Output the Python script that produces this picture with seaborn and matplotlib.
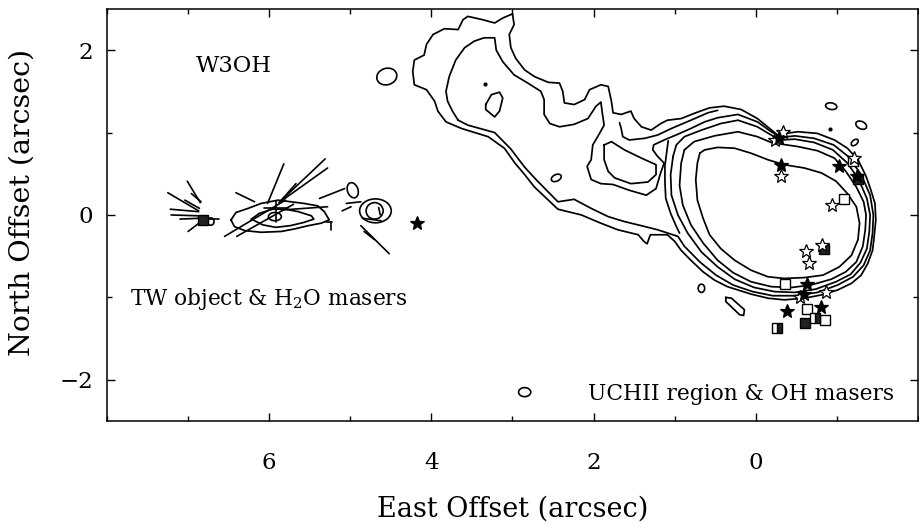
import matplotlib
matplotlib.use("Agg")
import matplotlib.pyplot as plt
import numpy as np
import pandas as pd
import seaborn as sns
from matplotlib.patches import Ellipse
from matplotlib.ticker import MultipleLocator

# ---------------- data (arcsec offsets) ----------------
# UCHII region / tail contours (polylines, East offset, North offset)
lev1_outer = [(3.00,2.44),(3.12,2.39),(3.22,2.33),(3.37,2.37),(3.55,2.41),(3.61,2.37),(3.67,2.25),
    (3.84,2.26),(3.98,2.19),(4.06,2.07),(4.09,1.94),(4.21,1.88),(4.23,1.74),(4.21,1.58),(4.06,1.52),
    (3.96,1.38),(3.92,1.26),(3.82,1.13),(3.63,1.05),(3.30,0.95),(3.10,0.81),(2.97,0.63),(2.85,0.49),
    (2.73,0.34),(2.59,0.21),(2.44,0.07),(2.15,0.00),(1.91,-0.10),(1.70,-0.18),(1.45,-0.24),(1.38,-0.32),
    (1.34,-0.35),(1.30,-0.24),(1.09,-0.24),(1.00,-0.32),(0.92,-0.43),(0.80,-0.55),(0.65,-0.69),
    (0.51,-0.79),(0.35,-0.87),(0.22,-0.91),(0.06,-0.96),(-0.15,-1.01),(-0.35,-1.03),(-0.60,-1.01),
    (-0.81,-0.97),(-1.01,-0.91),(-1.18,-0.83),(-1.30,-0.73),(-1.38,-0.59),(-1.44,-0.43),(-1.46,-0.26),
    (-1.48,-0.06),(-1.47,0.14),(-1.42,0.30),(-1.36,0.47),(-1.26,0.67),(-1.13,0.81),(-0.97,0.91),
    (-0.76,0.99),(-0.52,1.01),(-0.37,0.99),(-0.27,0.97),(-0.17,1.05),(-0.02,1.17),(0.18,1.28),
    (0.39,1.32),(0.57,1.30),(0.74,1.24),(0.92,1.17),(1.09,1.15),(1.17,1.11),(1.29,1.03),(1.41,1.07),
    (1.50,1.17),(1.54,1.26),(1.66,1.22),(1.76,1.24),(1.78,1.38),(1.82,1.56),(1.91,1.58),(2.05,1.52),
    (2.11,1.40),(2.24,1.34),(2.36,1.36),(2.38,1.50),(2.42,1.60),(2.56,1.61),(2.73,1.68),(2.85,1.76),
    (2.96,1.90),(3.02,2.03),(3.04,2.19),(2.98,2.31)]

lev2_tail = [(3.67,1.15),(3.74,1.26),(3.80,1.38),(3.82,1.50),(3.78,1.68),(3.70,1.88),(3.59,2.03),
    (3.47,2.11),(3.35,2.15),(3.22,2.15),(3.20,2.00),(3.12,1.86),(2.98,1.70),(2.81,1.60),(2.65,1.50),
    (2.61,1.40),(2.61,1.22),(2.54,1.11),(2.42,1.07),(2.24,1.10),(2.07,1.17),(1.97,1.32),(1.91,1.37),
    (1.89,1.22),(1.87,1.09),(1.95,0.95),(2.01,0.85),(2.03,0.67),(2.08,0.59),(2.03,0.43),(1.91,0.38),
    (1.76,0.37),(1.56,0.30),(1.35,0.24),(1.23,0.32),(1.18,0.49),(1.13,0.63),(1.21,0.71),(1.27,0.79),
    (1.26,0.85),(1.13,0.91),(0.96,0.98),(0.80,1.05),(0.63,1.13),(0.47,1.18),(0.22,1.22),(-0.02,1.13),
    (-0.19,1.01),(-0.31,0.94),(-0.48,0.96),(-0.72,0.93),(-0.96,0.85),(-1.14,0.71),(-1.30,0.49),
    (-1.41,0.24),(-1.45,0.00),(-1.44,-0.22),(-1.41,-0.43),(-1.33,-0.61),(-1.20,-0.75),(-1.01,-0.85),
    (-0.76,-0.94),(-0.48,-0.98),(-0.21,-0.98),(0.04,-0.93),(0.28,-0.85),(0.49,-0.73),(0.69,-0.57),
    (0.88,-0.38),(0.96,-0.26),(1.21,-0.18),(1.37,-0.14),(1.62,-0.08),(1.82,-0.02),(2.03,0.08),
    (2.24,0.19),(2.44,0.16),(2.56,0.28),(2.71,0.43),(2.85,0.58),(3.02,0.80),(3.22,1.00),(3.55,1.09)]

shell_c = [(1.02,0.71),(0.98,0.85),(0.88,0.95),(0.67,1.03),(0.43,1.11),(0.22,1.15),(-0.02,1.07),
    (-0.19,0.97),(-0.31,0.91),(-0.48,0.92),(-0.72,0.88),(-0.95,0.79),(-1.13,0.63),(-1.27,0.43),
    (-1.37,0.20),(-1.41,0.00),(-1.40,-0.20),(-1.37,-0.41),(-1.29,-0.58),(-1.17,-0.72),(-0.99,-0.81),
    (-0.74,-0.90),(-0.48,-0.94),(-0.23,-0.93),(0.02,-0.88),(0.26,-0.78),(0.47,-0.63),(0.67,-0.45),
    (0.84,-0.22),(0.96,0.00),(1.04,0.24),(1.05,0.49)]

shell_b = [(0.88,0.79),(0.76,0.89),(0.51,0.96),(0.22,1.01),(-0.02,0.95),(-0.19,0.88),(-0.31,0.86),
    (-0.52,0.83),(-0.76,0.78),(-0.97,0.69),(-1.11,0.53),(-1.24,0.34),(-1.33,0.16),(-1.36,0.00),
    (-1.35,-0.18),(-1.32,-0.38),(-1.24,-0.57),(-1.11,-0.69),(-0.93,-0.78),(-0.68,-0.85),(-0.44,-0.88),
    (-0.19,-0.87),(0.06,-0.81),(0.28,-0.70),(0.47,-0.55),(0.65,-0.34),(0.80,-0.12),(0.90,0.12),
    (0.94,0.36),(0.92,0.63)]

shell_a = [(0.69,0.75),(0.63,0.79),(0.47,0.82),(0.26,0.81),(0.06,0.75),(-0.15,0.67),(-0.35,0.61),
    (-0.60,0.57),(-0.81,0.51),(-0.99,0.41),(-1.13,0.26),(-1.24,0.10),(-1.28,-0.10),(-1.26,-0.30),
    (-1.18,-0.49),(-1.03,-0.63),(-0.83,-0.73),(-0.60,-0.76),(-0.35,-0.77),(-0.15,-0.75),(0.06,-0.67),
    (0.26,-0.55),(0.43,-0.41),(0.57,-0.24),(0.65,-0.04),(0.72,0.18),(0.74,0.43),(0.72,0.63)]

pocket_loop = [(1.87,0.85),(1.78,0.89),(1.62,0.79),(1.41,0.69),(1.23,0.61),(1.23,0.49),(1.33,0.40),
    (1.54,0.38),(1.74,0.45),(1.82,0.53),(1.87,0.67)]
tail_drop = [(3.33,1.34),(3.26,1.46),(3.16,1.49),(3.12,1.42),(3.16,1.26),(3.22,1.19),(3.33,1.28)]
thin_loop = [(0.37,-1.00),(0.30,-1.01),(0.14,-1.15),(0.15,-1.22),(0.20,-1.21),(0.37,-1.05)]

# open contour pieces
left_edge_d = [(1.08,0.90),(1.10,0.75),(1.12,0.60),(1.12,0.40),(1.11,0.20),(1.05,0.02),(0.98,-0.14),(0.94,-0.22)]
hook_line = [(1.68,1.12),(1.66,1.05),(1.64,0.95),(1.56,0.91),(1.37,0.93),(1.21,0.97),(1.04,1.05),
    (0.80,1.15),(0.59,1.24),(0.47,1.27)]

# TW object contours
tw_outer = [(6.47,-0.06),(6.41,0.03),(6.26,0.08),(6.10,0.14),(5.89,0.18),(5.73,0.16),(5.57,0.14),
    (5.40,0.11),(5.32,0.04),(5.26,-0.06),(5.36,-0.10),(5.52,-0.13),(5.69,-0.17),(5.85,-0.20),
    (6.10,-0.21),(6.30,-0.19),(6.43,-0.14)]
tw_inner = [(6.22,-0.05),(6.12,0.02),(5.96,0.07),(5.80,0.07),(5.64,0.04),(5.48,-0.01),(5.45,-0.05),
    (5.57,-0.09),(5.74,-0.13),(5.92,-0.15),(6.08,-0.12)]

# small closed contours: centre x, centre y, width, height, angle
blob_x = [5.93, 4.69, 4.70, 4.97, 4.55, 2.46, 2.85, 0.67, -0.93, -1.30, -1.22, 6.72]
blob_y = [-0.02, 0.05, 0.05, 0.30, 1.68, 0.45, -2.15, -0.89, 1.32, 1.09, 0.88, -0.08]
blob_w = [0.16, 0.39, 0.21, 0.13, 0.25, 0.13, 0.15, 0.08, 0.14, 0.14, 0.06, 0.08]
blob_h = [0.10, 0.29, 0.20, 0.19, 0.20, 0.08, 0.11, 0.10, 0.08, 0.09, 0.10, 0.09]
blob_a = [0, 0, 0, -20, -15, -25, 0, 0, 10, 25, 50, 0]
dot_x = [3.34, -0.92]
dot_y = [1.59, 1.04]

# H2O maser proper-motion vectors (start -> end)
vec_start = [(7.25,0.27),(7.01,0.41),(7.22,0.07),(7.21,0.00),(7.04,0.18),(7.00,-0.20),(7.10,-0.05),
    (6.75,-0.05),(6.96,0.26),(6.55,-0.26),(6.40,-0.26),(6.41,0.27),(5.82,0.62),(5.31,0.68),(5.28,0.57),
    (5.67,0.38),(5.91,0.17),(6.06,0.08),(5.07,0.32),(5.85,0.06),(5.24,-0.08),(5.30,-0.08),
    (5.05,0.14),(5.10,0.05),(4.85,-0.04),(4.87,-0.13),(4.83,-0.20),(4.65,0.09)]
vec_end = [(6.87,0.05),(6.85,0.15),(6.87,0.04),(6.88,-0.01),(6.86,0.08),(6.84,-0.08),(6.86,-0.04),
    (6.62,-0.05),(6.84,0.16),(5.80,0.18),(5.70,0.13),(6.18,0.16),(6.02,0.14),(5.88,0.15),(5.85,0.17),
    (5.85,0.18),(5.91,-0.08),(5.77,0.08),(5.38,0.20),(5.28,0.10),(5.24,-0.18),(5.22,-0.08),
    (4.87,0.16),(4.99,0.10),(4.62,-0.07),(4.52,-0.47),(4.70,-0.30),(4.63,0.00)]

# OH masers and other markers
star_fill_x = [-0.29, -0.31, -1.03, -1.25, -0.63, -0.59, -0.38, -0.80, 4.18]
star_fill_y = [0.93, 0.61, 0.60, 0.47, -0.84, -0.96, -1.16, -1.12, -0.10]
star_open_x = [-0.33, -0.24, -0.31, -1.21, -0.94, -0.62, -0.66, -0.82, -0.86, -0.55]
star_open_y = [1.01, 0.91, 0.47, 0.69, 0.12, -0.44, -0.58, -0.36, -0.93, -0.99]
sq_open_x = [-1.20, -1.09, -0.36, -0.63, -0.85]
sq_open_y = [0.66, 0.19, -0.84, -1.14, -1.28]
sq_fill_x = [-0.61, -0.84, -1.26, 6.82]
sq_fill_y = [-1.31, -0.41, 0.44, -0.06]
sq_half_x = [-0.73, -0.26]
sq_half_y = [-1.25, -1.37]

# ---------------- plotting ----------------
sns.set_theme(style="ticks")
plt.rcParams['font.family'] = ['DejaVu Serif']
plt.rcParams['mathtext.fontset'] = 'dejavuserif'
for key in ("text.color", "axes.labelcolor", "xtick.color", "ytick.color", "axes.edgecolor"):
    plt.rcParams[key] = "black"

fig = plt.figure(figsize=(9.2, 5.24), dpi=100)
ax = fig.add_axes([0.1163, 0.1966, 0.8815, 0.7863])

def frame(shapes, closed):
    rows = []
    for name, pts in shapes.items():
        seq = list(pts) + ([pts[0]] if closed else [])
        for i, (x, y) in enumerate(seq):
            rows.append((name, i, x, y))
    return pd.DataFrame(rows, columns=["cid", "order", "x", "y"])

closed_df = frame({"lev1": lev1_outer, "lev2": lev2_tail, "c": shell_c, "b": shell_b,
                   "a": shell_a, "pocket": pocket_loop, "drop": tail_drop, "thin": thin_loop,
                   "two": tw_outer, "twi": tw_inner}, True)
open_df = frame({"dleft": left_edge_d, "hook": hook_line}, False)
vec_df = frame({f"v{i}": [s, e] for i, (s, e) in enumerate(zip(vec_start, vec_end))}, False)

for df, lw in ((closed_df, 1.25), (open_df, 1.25), (vec_df, 1.2)):
    sns.lineplot(data=df, x="x", y="y", units="cid", estimator=None, sort=False,
                 color="black", lw=lw, ax=ax, legend=False)

for x, y, w, h, a in zip(blob_x, blob_y, blob_w, blob_h, blob_a):
    ax.add_patch(Ellipse((x, y), w, h, angle=a, fill=False, ec="black", lw=1.2))
ax.plot(dot_x, dot_y, ls="none", marker="o", ms=2, color="black")

ax.plot(sq_open_x, sq_open_y, ls="none", marker="s", ms=7, mfc="white", mec="black", mew=1.0)
ax.plot(sq_fill_x, sq_fill_y, ls="none", marker="s", ms=7, mfc="#222222", mec="black", mew=1.0)
ax.plot(sq_half_x, sq_half_y, ls="none", marker="s", ms=7, fillstyle="right",
        mfc="#222222", mfcalt="white", mec="black", mew=1.0)
ax.plot(star_open_x, star_open_y, ls="none", marker="*", ms=10, mfc="white", mec="black", mew=0.9)
ax.plot(star_fill_x, star_fill_y, ls="none", marker="*", ms=10, mfc="black", mec="black", mew=0.9)

ax.text(6.90, 1.73, "W3OH", fontsize=16.3, ha="left", va="baseline")
ax.text(7.72, -1.09, "TW object & H$_2$O masers", fontsize=15.6, ha="left", va="baseline")
ax.text(-1.71, -2.24, "UCHII region & OH masers", fontsize=15.7, ha="right", va="baseline")

ax.set_xlim(8, -2)
ax.set_ylim(-2.5, 2.5)
ax.xaxis.set_major_locator(MultipleLocator(2))
ax.xaxis.set_minor_locator(MultipleLocator(1))
ax.yaxis.set_major_locator(MultipleLocator(2))
ax.yaxis.set_minor_locator(MultipleLocator(1))
ax.set_xticks([6, 4, 2, 0])
ax.set_yticks([-2, 0, 2])
ax.set_yticklabels(["\u22122", "0", "2"])
ax.tick_params(which="both", direction="in", top=True, right=True, color="black", width=1.0)
ax.tick_params(which="major", length=5.5, labelsize=16.5)
ax.tick_params(which="minor", length=3.6)
ax.tick_params(axis="x", which="major", pad=22)
ax.tick_params(axis="y", which="major", pad=10)
for s in ax.spines.values():
    s.set_linewidth(1.1)
    s.set_color("black")

ax.set_xlabel("East Offset (arcsec)", fontsize=19.5)
ax.set_ylabel("North Offset (arcsec)", fontsize=20.5)
ax.xaxis.set_label_coords(0.5, -0.18)
ax.yaxis.set_label_coords(-0.088, 0.53)

fig.savefig("out.png", dpi=100)
